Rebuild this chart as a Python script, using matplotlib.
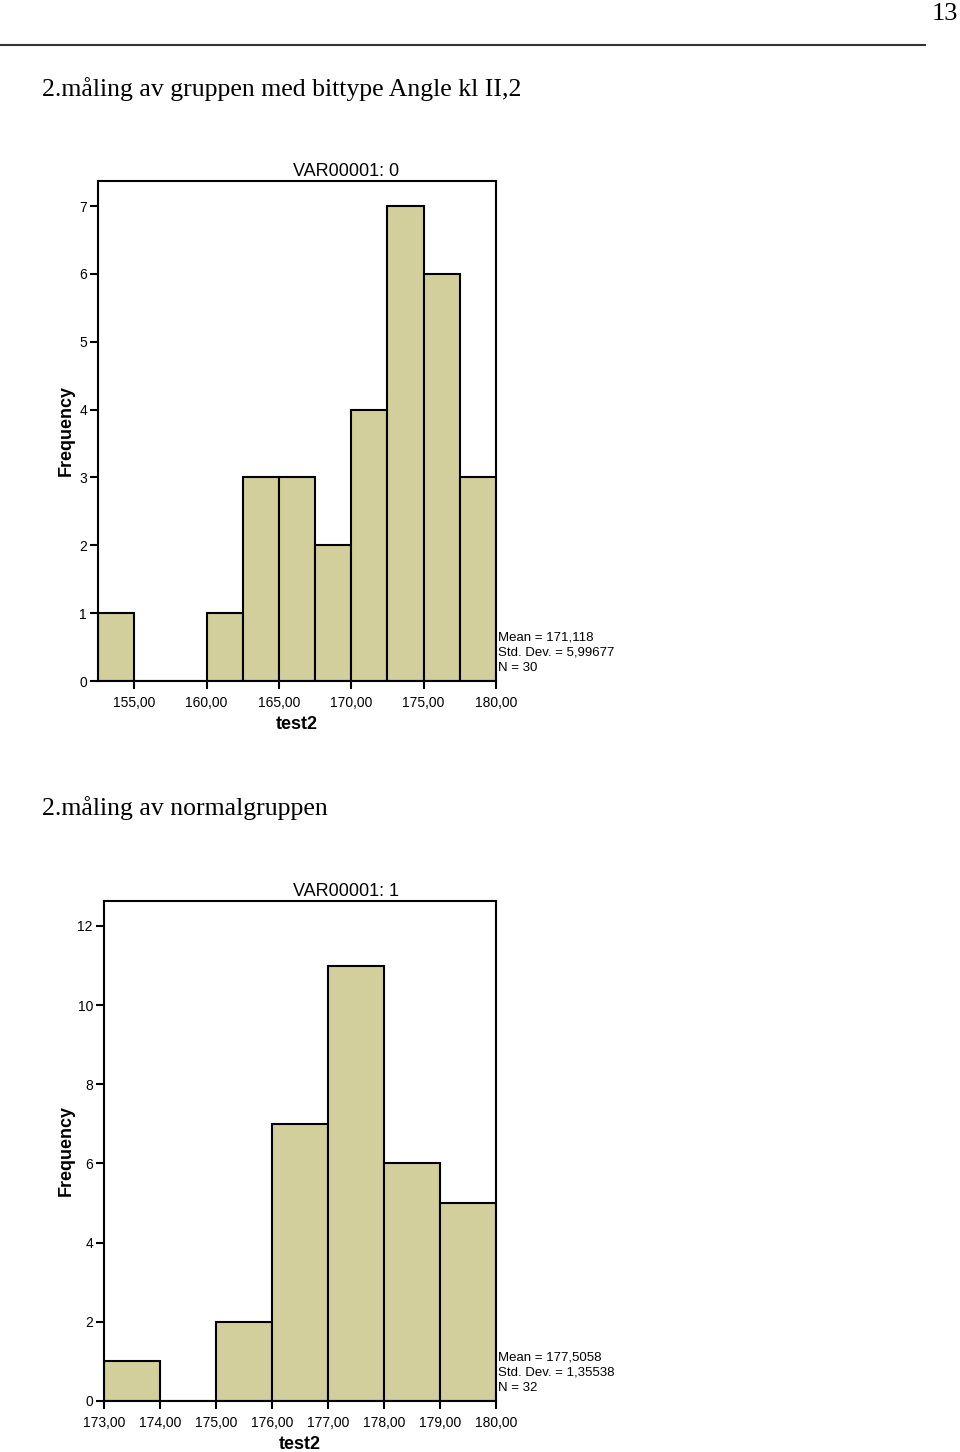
import numpy as np
import matplotlib
matplotlib.use("Agg")
from matplotlib import pyplot as plt

# group 1 (VAR00001: 0)
edges_a = [152.5, 155.0, 157.5, 160.0, 162.5, 165.0, 167.5, 170.0, 172.5, 175.0, 177.5, 180.0]
counts_a = [1, 0, 0, 1, 3, 3, 2, 4, 7, 6, 3]
ticks_a = [155, 160, 165, 170, 175, 180]
yticks_a = [0, 1, 2, 3, 4, 5, 6, 7]
stats_a = ["Mean = 171,118", "Std. Dev. = 5,99677", "N = 30"]

# group 2 (VAR00001: 1)
edges_b = [173, 174, 175, 176, 177, 178, 179, 180]
counts_b = [1, 0, 2, 7, 11, 6, 5]
ticks_b = [173, 174, 175, 176, 177, 178, 179, 180]
yticks_b = [0, 2, 4, 6, 8, 10, 12]
stats_b = ["Mean = 177,5058", "Std. Dev. = 1,35538", "N = 32"]

BAR = "#D3CF9C"
SANS = "Liberation Sans"
SERIF = "Liberation Serif"

fig = plt.figure(figsize=(9.6, 14.52), dpi=100)

# page header
fig.text(0.998, 0.998, "13", family=SERIF, fontsize=19, ha="right", va="top")
fig.add_artist(plt.Line2D([0, 925 / 960], [1 - 45 / 1452] * 2, color="#333333", lw=1.5))
fig.text(42 / 960, 1 - 89 / 1452, "2.måling av gruppen med bittype Angle kl II,2",
         family=SERIF, fontsize=18.5, ha="left", va="center")
fig.text(42 / 960, 1 - 808 / 1452, "2.måling av normalgruppen",
         family=SERIF, fontsize=18.5, ha="left", va="center")


def hist_panel(rect, edges, counts, ticks, yticks, ylim, title, stats):
    ax = fig.add_axes(rect)
    edges = np.array(edges, dtype=float)
    ax.bar(edges[:-1], counts, width=np.diff(edges), align="edge",
           color=BAR, edgecolor="black", linewidth=1.5)
    ax.set_xlim(edges[0], edges[-1])
    ax.set_ylim(0, ylim)
    ax.set_xticks(ticks)
    ax.set_xticklabels([f"{t:.2f}".replace(".", ",") for t in ticks], family=SANS, fontsize=10)
    ax.set_yticks(yticks)
    ax.set_yticklabels([str(t) for t in yticks], family=SANS, fontsize=10)
    ax.tick_params(axis="both", direction="out", length=6, width=1.5, pad=2)
    ax.tick_params(axis="x", pad=5)
    for s in ax.spines.values():
        s.set_linewidth(1.5)
    # title sits right of the axes centre in the original
    ax.text((346 / 960 - rect[0]) / rect[2], 1.002, title, transform=ax.transAxes,
            family=SANS, fontsize=13, ha="center", va="bottom")
    ax.set_xlabel("test2", family=SANS, fontsize=13, fontweight="bold", labelpad=4)
    ax.set_ylabel("Frequency", family=SANS, fontsize=13, fontweight="bold")
    ax.yaxis.set_label_coords((75 / 960 - rect[0]) / rect[2], 0.5)
    ax.text(1.006, 0.099, "\n".join(stats), transform=ax.transAxes, family=SANS,
            fontsize=9.5, ha="left", va="top", linespacing=1.35)
    return ax


hist_panel([98 / 960, 1 - 681 / 1452, 398 / 960, 500 / 1452],
           edges_a, counts_a, ticks_a, yticks_a, 7.37, "VAR00001: 0", stats_a)
hist_panel([104 / 960, 1 - 1401 / 1452, 392 / 960, 500 / 1452],
           edges_b, counts_b, ticks_b, yticks_b, 12.63, "VAR00001: 1", stats_b)

fig.savefig("out.png", dpi=100)
